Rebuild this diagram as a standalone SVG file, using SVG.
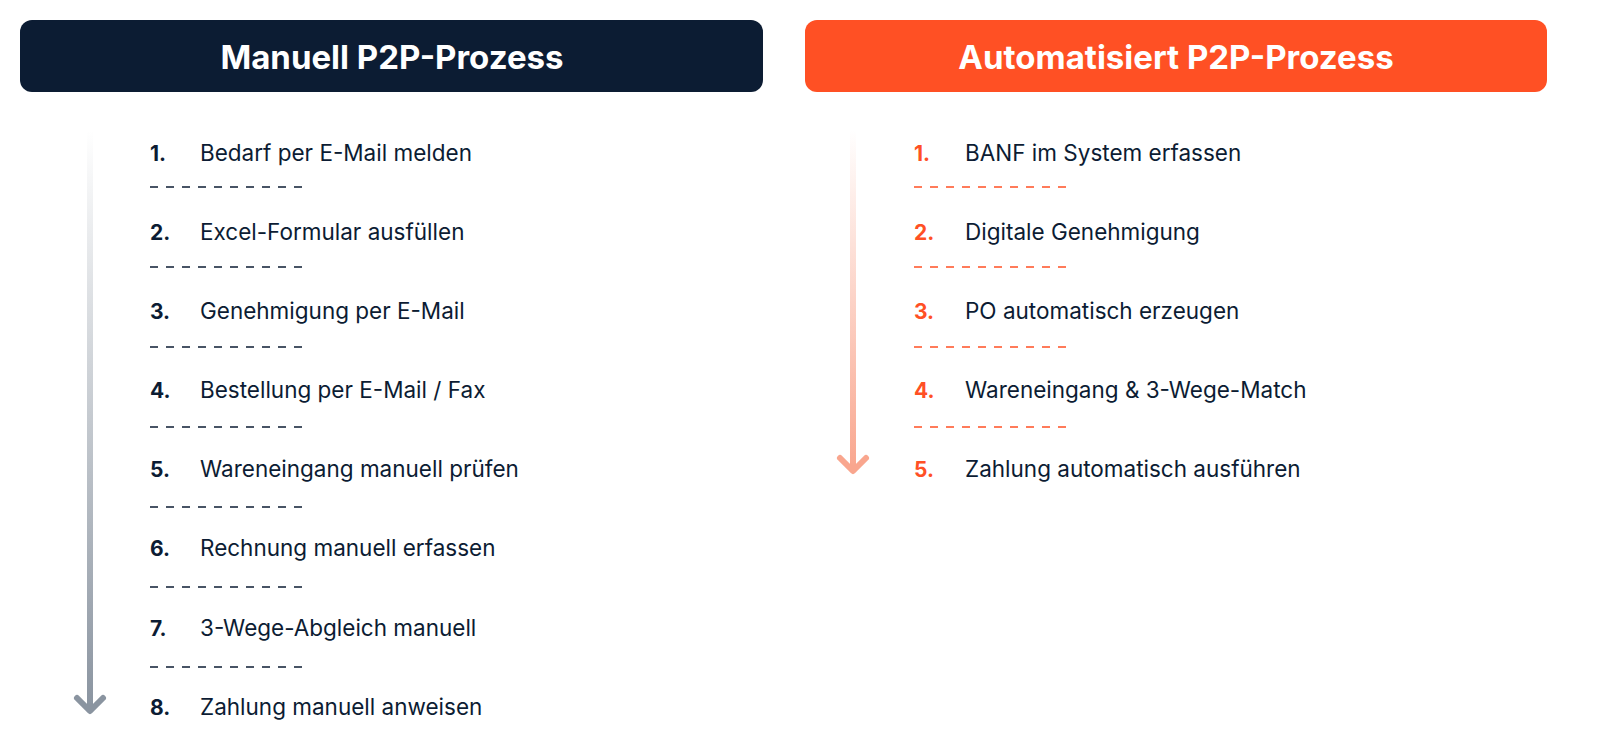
<svg xmlns="http://www.w3.org/2000/svg" width="1604" height="754" viewBox="0 0 1604 754">
<style>
.t{font-family:Inter,"Liberation Sans",sans-serif;font-size:22.5px;fill:#0c1c33}
.n{font-family:Inter,"Liberation Sans",sans-serif;font-size:21px;font-weight:700;fill:#0c1c33}
.no{fill:#ff5024}
.h{font-family:Inter,"Liberation Sans",sans-serif;font-size:33px;font-weight:700;fill:#fff;text-anchor:middle}
.d{stroke:#0c1c33;stroke-width:1.5;stroke-dasharray:8 8}
.do{stroke:#ff5024}
</style>
<defs>
<linearGradient id="g1" x1="0" y1="0" x2="0" y2="1"><stop offset="0" stop-color="#8a94a0" stop-opacity="0"/><stop offset="1" stop-color="#8a94a0"/></linearGradient>
<linearGradient id="g2" x1="0" y1="0" x2="0" y2="1"><stop offset="0" stop-color="#f9a68e" stop-opacity="0"/><stop offset="1" stop-color="#f9a68e"/></linearGradient>
</defs>
<g id="header-left"><rect x="20" y="20" width="743" height="72" rx="12" fill="#0c1c33"/><text class="h" x="392" y="69">Manuell P2P-Prozess</text></g>
<g id="header-right"><rect x="805" y="20" width="742" height="72" rx="12" fill="#ff5024"/><text class="h" x="1176" y="69">Automatisiert P2P-Prozess</text></g>
<g id="connectors">
<rect x="87" y="130" width="6" height="580" fill="url(#g1)"/>
<polyline points="77,698 90,711 103,698" fill="none" stroke="#8a94a0" stroke-width="6" stroke-linecap="round" stroke-linejoin="round"/>
<rect x="850" y="130" width="6" height="340" fill="url(#g2)"/>
<polyline points="840,458 853,471 866,458" fill="none" stroke="#f9a68e" stroke-width="6" stroke-linecap="round" stroke-linejoin="round"/>
</g>
<g id="left-steps">
<g id="l1"><text class="n" x="150" y="161">1.</text><text class="t" x="200" y="161">Bedarf per E-Mail melden</text></g>
<line class="d" x1="150" y1="187" x2="304" y2="187"/>
<g id="l2"><text class="n" x="150" y="240">2.</text><text class="t" x="200" y="240">Excel-Formular ausfüllen</text></g>
<line class="d" x1="150" y1="267" x2="304" y2="267"/>
<g id="l3"><text class="n" x="150" y="319">3.</text><text class="t" x="200" y="319">Genehmigung per E-Mail</text></g>
<line class="d" x1="150" y1="347" x2="304" y2="347"/>
<g id="l4"><text class="n" x="150" y="398">4.</text><text class="t" x="200" y="398">Bestellung per E-Mail / Fax</text></g>
<line class="d" x1="150" y1="427" x2="304" y2="427"/>
<g id="l5"><text class="n" x="150" y="477">5.</text><text class="t" x="200" y="477">Wareneingang manuell prüfen</text></g>
<line class="d" x1="150" y1="507" x2="304" y2="507"/>
<g id="l6"><text class="n" x="150" y="556">6.</text><text class="t" x="200" y="556">Rechnung manuell erfassen</text></g>
<line class="d" x1="150" y1="587" x2="304" y2="587"/>
<g id="l7"><text class="n" x="150" y="636">7.</text><text class="t" x="200" y="636">3-Wege-Abgleich manuell</text></g>
<line class="d" x1="150" y1="667" x2="304" y2="667"/>
<g id="l8"><text class="n" x="150" y="715">8.</text><text class="t" x="200" y="715">Zahlung manuell anweisen</text></g>
</g>
<g id="right-steps">
<g id="r1"><text class="n no" x="914" y="161">1.</text><text class="t" x="965" y="161">BANF im System erfassen</text></g>
<line class="d do" x1="914" y1="187" x2="1068" y2="187"/>
<g id="r2"><text class="n no" x="914" y="240">2.</text><text class="t" x="965" y="240">Digitale Genehmigung</text></g>
<line class="d do" x1="914" y1="267" x2="1068" y2="267"/>
<g id="r3"><text class="n no" x="914" y="319">3.</text><text class="t" x="965" y="319">PO automatisch erzeugen</text></g>
<line class="d do" x1="914" y1="347" x2="1068" y2="347"/>
<g id="r4"><text class="n no" x="914" y="398">4.</text><text class="t" x="965" y="398">Wareneingang &amp; 3-Wege-Match</text></g>
<line class="d do" x1="914" y1="427" x2="1068" y2="427"/>
<g id="r5"><text class="n no" x="914" y="477">5.</text><text class="t" x="965" y="477">Zahlung automatisch ausführen</text></g>
</g>
</svg>
